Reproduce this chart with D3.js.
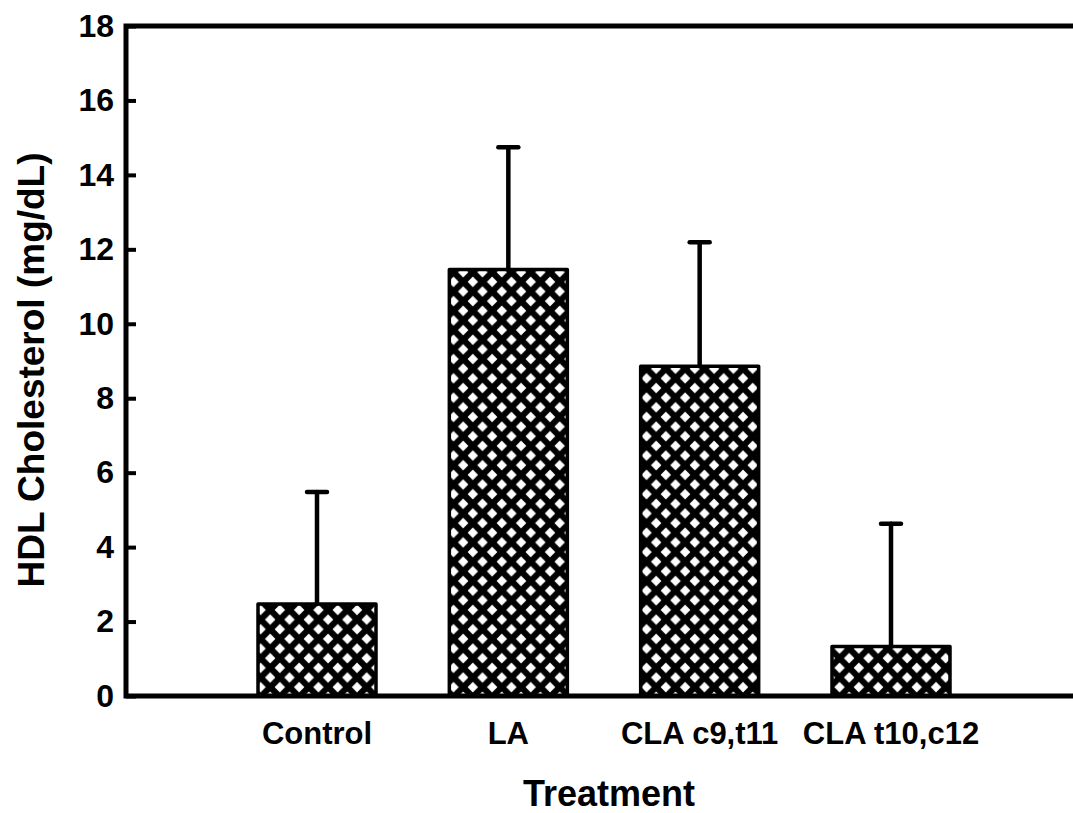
<!DOCTYPE html>
<html><head><meta charset="utf-8">
<script src="https://cdn.jsdelivr.net/npm/d3@7"></script>
<style>body{margin:0;background:#fff}</style></head>
<body>
<script>
const categories = ["Control", "LA", "CLA c9,t11", "CLA t10,c12"];
const means = [2.47, 11.46, 8.86, 1.33];
const errors = [3.01, 3.28, 3.33, 3.3];
const yTicks = [0, 2, 4, 6, 8, 10, 12, 14, 16, 18];
const yLabel = "HDL Cholesterol (mg/dL)";
const xLabel = "Treatment";

(function () {
const W = 1073, H = 813;
const mLeft = 126, mRight = 1073, mTop = 26, mBottom = 696;
const font = "'Liberation Sans', Arial, sans-serif";

const svg = d3.select("body").append("svg").attr("width", W).attr("height", H);

const p = 19.3;
const defs = svg.append("defs");
const pat = defs.append("pattern").attr("id", "hatch")
  .attr("patternUnits", "userSpaceOnUse").attr("width", p).attr("height", p)
  .attr("x", 0).attr("y", 2);
pat.append("rect").attr("width", p).attr("height", p).attr("fill", "#000");
const s = 5.2;
[[0,0],[p,0],[0,p],[p,p],[p/2,p/2]].forEach(([cx,cy]) => {
  pat.append("path").attr("d", `M${cx-s},${cy}L${cx},${cy-s}L${cx+s},${cy}L${cx},${cy+s}Z`).attr("fill", "#fff");
});

const y = d3.scaleLinear().domain([0, 18]).range([mBottom, mTop]);
const x = d3.scalePoint().domain(categories).range([317, 891]);
const bw = 118;

svg.selectAll("rect.bar").data(categories).join("rect").attr("class", "bar")
  .attr("x", d => x(d) - bw/2)
  .attr("y", (d, i) => y(means[i]))
  .attr("width", bw)
  .attr("height", (d, i) => y(0) - y(means[i]))
  .attr("fill", "url(#hatch)")
  .attr("stroke", "#000").attr("stroke-width", 3.5).attr("stroke-linejoin", "round");

const eg = svg.append("g").attr("stroke", "#000").attr("stroke-width", 4.5).attr("stroke-linecap", "round");
categories.forEach((c, i) => {
  eg.append("line").attr("x1", x(c)).attr("x2", x(c)).attr("y1", y(means[i])).attr("y2", y(means[i] + errors[i]));
  eg.append("line").attr("x1", x(c) - 10).attr("x2", x(c) + 10).attr("y1", y(means[i] + errors[i])).attr("y2", y(means[i] + errors[i]));
});

const yAxis = d3.axisLeft(y).tickValues(yTicks).tickSize(-10).tickPadding(20).tickFormat(d3.format("d"));
const ga = svg.append("g").attr("transform", `translate(${mLeft},0)`).call(yAxis);
ga.select(".domain").remove();
ga.selectAll(".tick line").attr("stroke", "#000").attr("stroke-width", 4);
ga.selectAll(".tick text").attr("font-family", font).attr("font-weight", "bold").attr("font-size", 32).attr("fill", "#000").attr("x", -12);

const axg = svg.append("g").attr("stroke", "#000").attr("stroke-width", 5).attr("fill", "none");
axg.append("path").attr("d", `M${mRight},${mTop}H${mLeft}V${mBottom}H${mRight}`).attr("stroke-linejoin", "miter");

svg.selectAll("text.cat").data(categories).join("text").attr("class", "cat")
  .attr("x", d => x(d)).attr("y", 744)
  .attr("text-anchor", "middle").attr("font-family", font).attr("font-weight", "bold")
  .attr("font-size", 31).text(d => d);

svg.append("text").attr("x", 609).attr("y", 806).attr("text-anchor", "middle")
  .attr("font-family", font).attr("font-weight", "bold").attr("font-size", 36).text(xLabel);

svg.append("text").attr("transform", `translate(44,370) rotate(-90)`).attr("text-anchor", "middle")
  .attr("font-family", font).attr("font-weight", "bold").attr("font-size", 37).text(yLabel);
})();
</script>
</body></html>
